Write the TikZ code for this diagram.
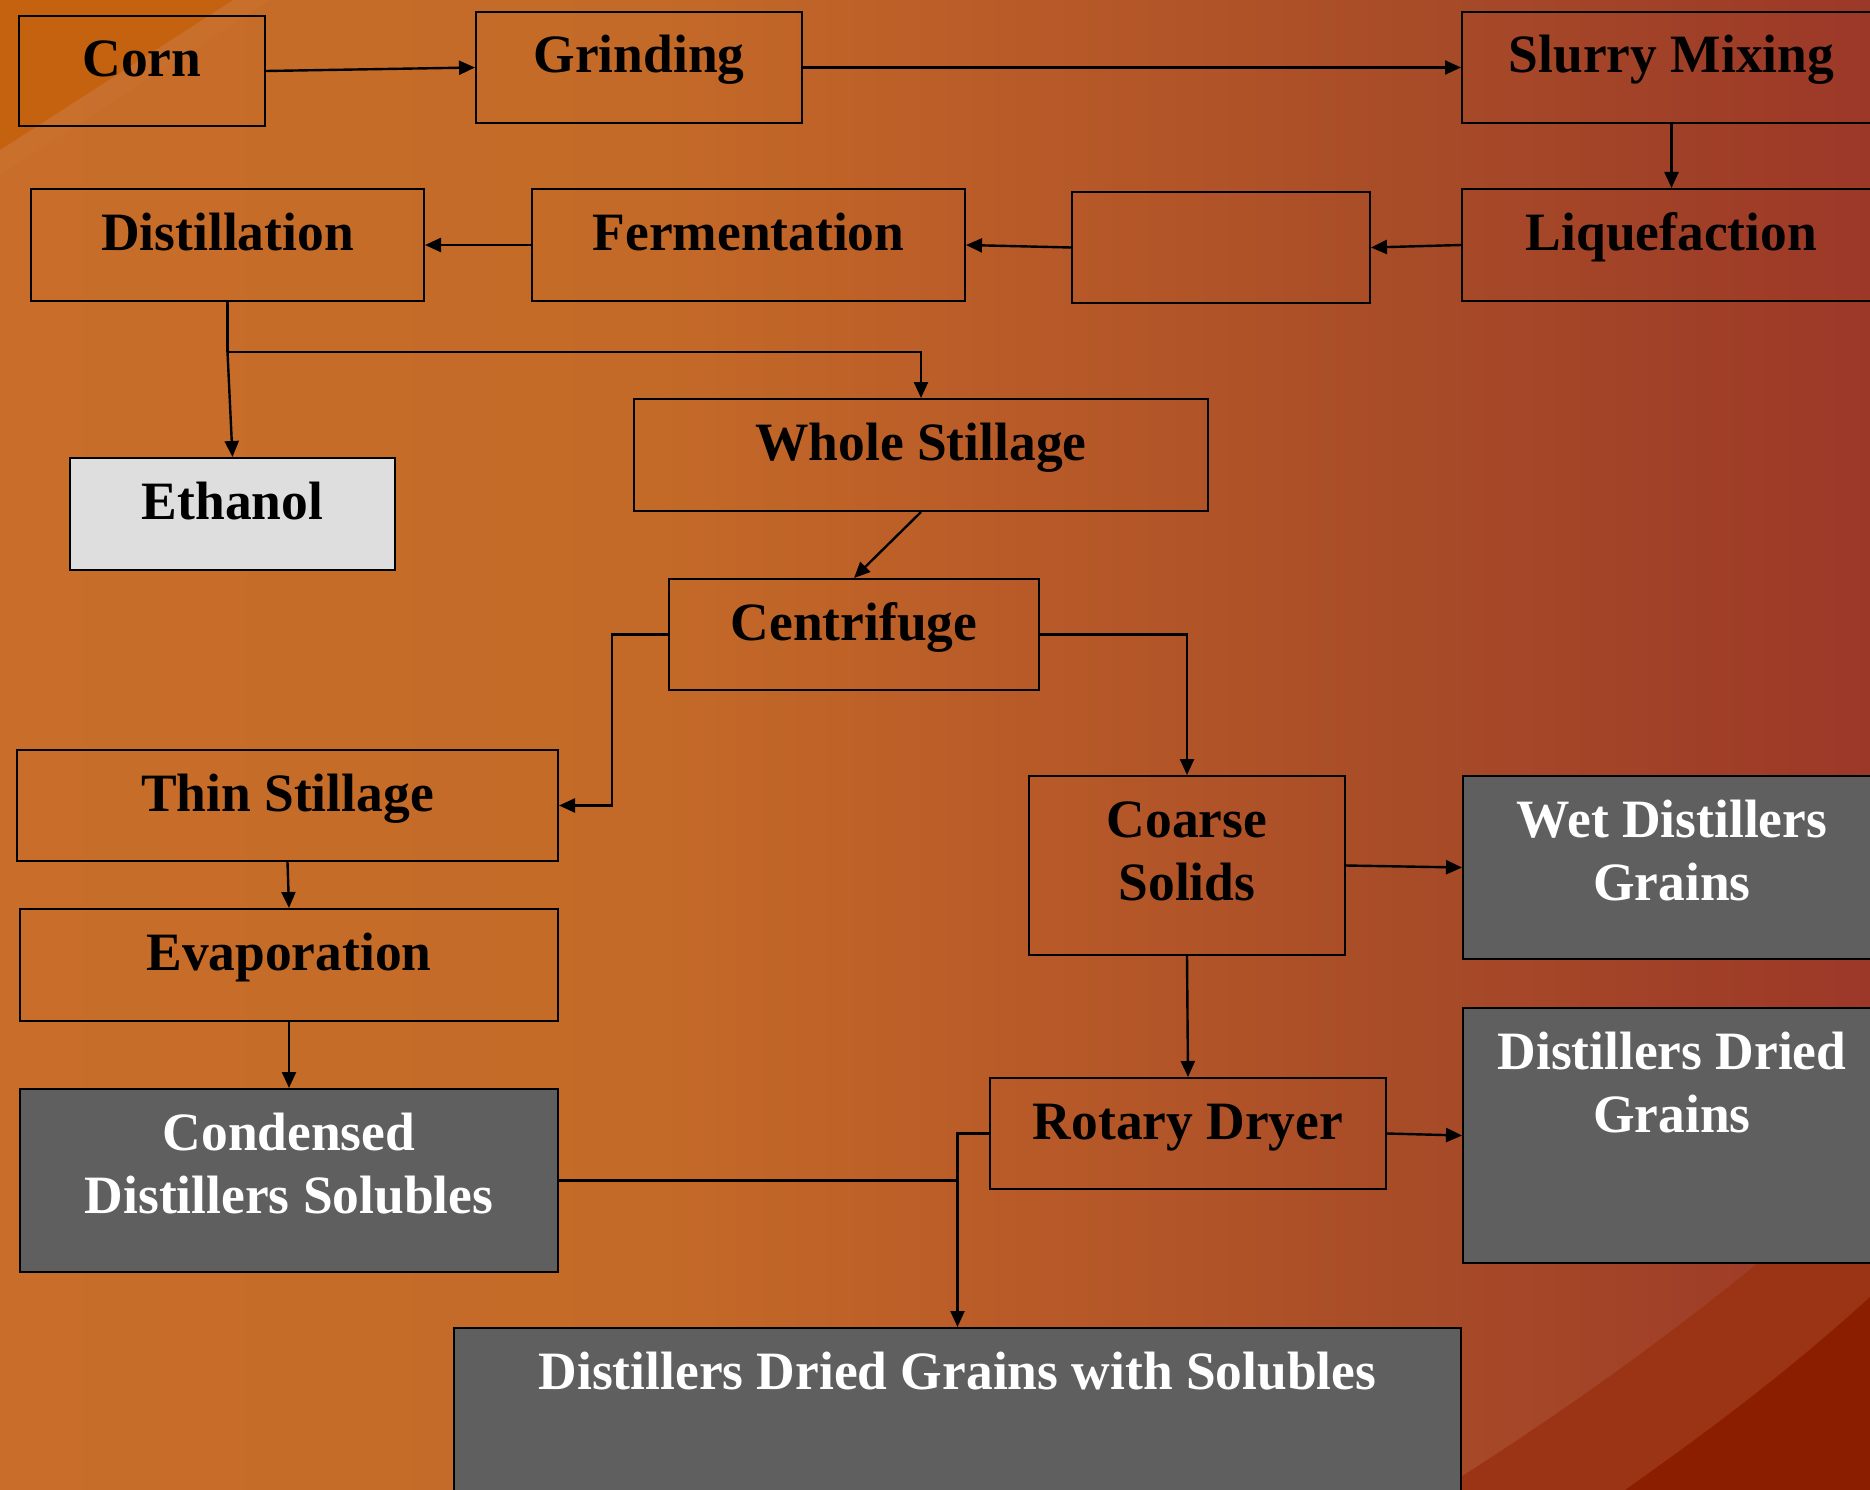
\documentclass[tikz,border=0pt]{standalone}
\usepackage{fontspec}
\setmainfont{Liberation Serif}[FakeStretch=0.99]
\usetikzlibrary{arrows.meta}

\definecolor{bgA}{HTML}{C86E2A}
\definecolor{bgB}{HTML}{C46A28}
\definecolor{bgC}{HTML}{B85A28}
\definecolor{bgD}{HTML}{A84C28}
\definecolor{bgE}{HTML}{9C3828}
\definecolor{cornerdark}{HTML}{C4620F}
\definecolor{cornerlight}{HTML}{CA7230}
\definecolor{swoosh}{HTML}{9A3414}
\definecolor{swooshdark}{HTML}{8C1E00}
\definecolor{boxgray}{HTML}{5F5F5F}
\definecolor{boxlight}{HTML}{DEDEDE}

\pgfdeclarehorizontalshading{backdrop}{100bp}{color(0bp)=(bgA); color(25bp)=(bgA);
  color(42.5bp)=(bgB); color(52.5bp)=(bgC); color(62.5bp)=(bgD); color(75bp)=(bgE); color(100bp)=(bgE)}

\begin{document}
\begin{tikzpicture}[x=1pt, y=-1pt,
  stage/.style={draw=black, line width=2pt, anchor=north west, inner sep=0pt, align=flush center,
    text height=61pt, font=\bfseries\fontsize{54pt}{63pt}\selectfont},
  product/.style={stage, fill=boxgray, text=white},
  flow/.style={line width=2.4pt, -{Triangle[length=16pt,width=14pt]}},
  link/.style={line width=2.4pt}]

\useasboundingbox (0,0) rectangle (1870,1490);

% backdrop
\shade[shading=backdrop] (0,0) rectangle (1870,1490);
\fill[cornerlight, opacity=0.5] (233,0) -- (270,0) -- (0,175) -- (0,150) -- cycle;
\fill[cornerdark] (0,0) -- (233,0) -- (0,150) -- cycle;
\fill[swoosh] (1440,1490) .. controls (1600,1390) and (1760,1270) .. (1900,1140) -- (1900,1490) -- cycle;
\fill[swooshdark] (1625,1490) .. controls (1710,1430) and (1790,1370) .. (1870,1297) -- (1870,1490) -- cycle;

% row 1
\node[stage, text width=246pt, text depth=49pt] (corn) at (18,15) {Corn};
\node[stage, text width=326pt, text depth=50pt] (grind) at (475,11) {Grinding};
\node[stage, text width=419pt, text depth=50pt] (slurry) at (1461,11) {Slurry Mixing};

% row 2
\node[stage, text width=393pt, text depth=51pt] (distil) at (30,188) {Distillation};
\node[stage, text width=433pt, text depth=51pt] (ferm) at (531,188) {Fermentation};
\node[stage, text width=298pt, text depth=50pt] (blank) at (1071,191) {};
\node[stage, text width=419pt, text depth=51pt] (liq) at (1461,188) {Liquefaction};

\node[stage, fill=boxlight, text width=325pt, text depth=51pt] (eth) at (69,457) {Ethanol};
\node[stage, text width=574pt, text depth=51pt] (whole) at (633,398) {Whole Stillage};
\node[stage, text width=370pt, text depth=50pt] (centri) at (668,578) {Centrifuge};

\node[stage, text width=541pt, text depth=50pt] (thin) at (16,749) {Thin Stillage};
\node[stage, text width=538pt, text depth=51pt] (evap) at (19,908) {Evaporation};
\node[product, text width=538pt, text depth=122pt] (cds) at (19,1088) {Condensed\\Distillers Solubles};

\node[stage, text width=316pt, text depth=118pt] (coarse) at (1028,775) {Coarse\\Solids};
\node[product, text width=418pt, text depth=122pt] (wdg) at (1462,775) {Wet Distillers\\Grains};
\node[stage, text width=396pt, text depth=50pt] (rotary) at (989,1077) {Rotary Dryer};
\node[product, text width=418pt, text depth=194pt] (ddg) at (1462,1007) {Distillers Dried\\Grains};
\node[product, text width=1007pt, text depth=159pt] (ddgs) at (453,1327) {Distillers Dried Grains with Solubles};

% connectors
\draw[flow] (corn.east) -- (grind.west);
\draw[flow] (grind.east) -- (slurry.west);
\draw[flow] (slurry.south) -- (liq.north);
\draw[flow] (liq.west) -- (blank.east);
\draw[flow] (blank.west) -- (ferm.east);
\draw[flow] (ferm.west) -- (distil.east);

\coordinate (split) at ([yshift=-50pt]distil.south);
\draw[link] (distil.south) -- (split);
\draw[flow] (split) -- (eth.north);
\draw[flow] (split) -| (whole.north);
\draw[flow] (whole.south) -- (centri.north);

\draw[flow] (centri.west) -- ++(-56,0) |- (thin.east);
\draw[flow] (centri.east) -| (coarse.north);
\draw[flow] (thin.south) -- (evap.north);
\draw[flow] (evap.south) -- (cds.north);

\draw[flow] (coarse.east) -- (wdg.west);
\draw[flow] (coarse.south) -- (rotary.north);
\draw[flow] (rotary.east) -- (ddg.west);
\draw[flow] (rotary.west) -| (ddgs.north);
\draw[link] (cds.east) -- (cds.east -| ddgs.north);
\end{tikzpicture}
\end{document}
